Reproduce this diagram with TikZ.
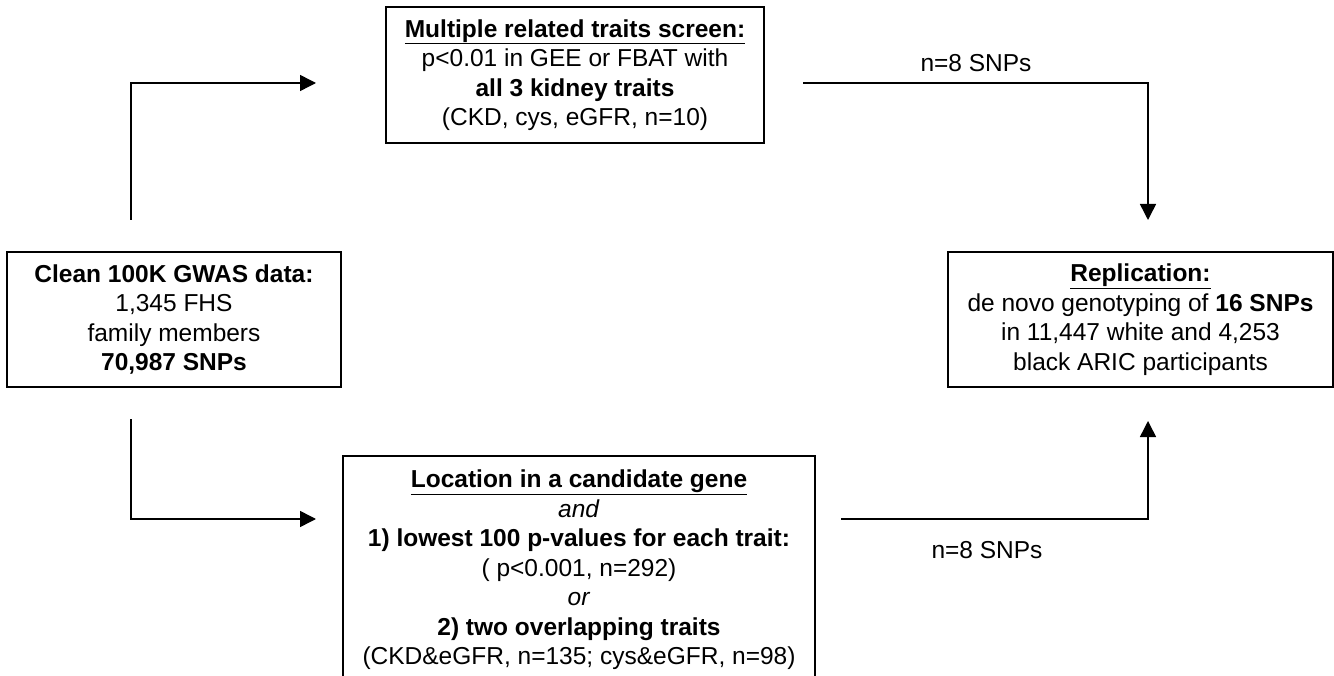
\documentclass[tikz,border=0pt]{standalone}
\usepackage{fontspec}
\setmainfont{Liberation Sans}
\usetikzlibrary{arrows.meta}
\begin{document}
\begin{tikzpicture}[x=1pt,y=-1pt,
  box/.style={draw, line width=1.8pt, align=center, inner sep=0pt,
    font=\fontsize{24.5}{29.5}\selectfont},
  conn/.style={line width=1.5pt},
  arr/.style={conn, -{Triangle[length=16pt,width=16pt]}},
  lbl/.style={font=\fontsize{24.5}{29.5}\selectfont, inner sep=0pt}]
\useasboundingbox (0,0) rectangle (1334,676);
\clip (0,0) rectangle (1334,676);
\fill[white] (0,0) rectangle (1334,676);

% boxes
\node[box, minimum width=334pt, minimum height=135pt] (clean) at (174,319.5)
  {\textbf{Clean 100K GWAS data:}\\ 1,345 FHS\\ family members\\ \textbf{70,987 SNPs}};
\node[box, minimum width=378pt, minimum height=136pt] (multi) at (575,75)
  {\underline{\textbf{Multiple related traits screen:}}\\ p<0.01 in GEE or FBAT with\\ \textbf{all 3 kidney traits}\\ (CKD, cys, eGFR, n=10)};
\node[box, minimum width=385pt, minimum height=135pt] (repl) at (1140.5,319.5)
  {\underline{\textbf{Replication:}}\\ de novo genotyping of \textbf{16 SNPs}\\ in 11,447 white and 4,253\\ black ARIC participants};
\node[box, minimum width=472pt, minimum height=228pt] (loc) at (579,570)
  {\underline{\textbf{Location in a candidate gene}}\\ \textit{and}\\ \textbf{1) lowest 100 p-values for each trait:}\\ ( p<0.001, n=292)\\ \textit{or}\\ \textbf{2) two overlapping traits}\\ (CKD\&eGFR, n=135; cys\&eGFR, n=98)};

% connector end points
\coordinate (a1) at (131,220);
\coordinate (a2) at (131,83);
\coordinate (a3) at (316,83);
\coordinate (b1) at (131,419);
\coordinate (b2) at (131,519);
\coordinate (b3) at (316,519);
\coordinate (c1) at (803,83);
\coordinate (c2) at (1148,83);
\coordinate (c3) at (1148,220);
\coordinate (d1) at (841,519);
\coordinate (d2) at (1148,519);
\coordinate (d3) at (1148,421);

\draw[arr] (a1) -- (a2) -- (a3);
\draw[arr] (b1) -- (b2) -- (b3);
\draw[arr] (c1) -- (c2) -- (c3);
\draw[arr] (d1) -- (d2) -- (d3);

\node[lbl] (l1) at (976,63) {n=8 SNPs};
\node[lbl] (l2) at (987,550) {n=8 SNPs};
\end{tikzpicture}
\end{document}
